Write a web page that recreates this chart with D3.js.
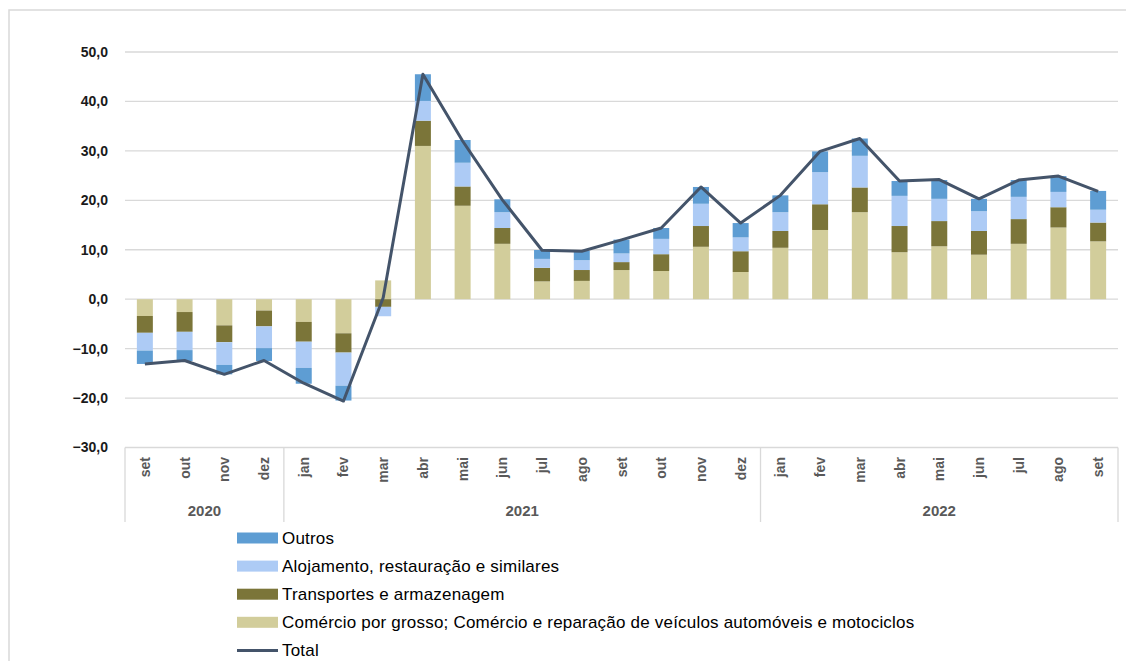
<!DOCTYPE html>
<html>
<head>
<meta charset="utf-8">
<script src="https://cdn.jsdelivr.net/npm/d3@7"></script>
<style>
  html, body { margin: 0; padding: 0; background: #fff; }
  svg { display: block; }
</style>
</head>
<body>
<script>
// ---------- DATA ----------
const months = ["set","out","nov","dez","jan","fev","mar","abr","mai","jun","jul","ago","set","out","nov","dez","jan","fev","mar","abr","mai","jun","jul","ago","set"];
const yearLabels = ["2020","2021","2022"];
const yearCounts = [4, 12, 9];
const yTicks = [50, 40, 30, 20, 10, 0, -10, -20, -30];

const seriesNames = [
  "Comércio por grosso; Comércio e reparação de veículos automóveis e motociclos",
  "Transportes e armazenagem",
  "Alojamento, restauração e similares",
  "Outros"
];
const comercio    = [-3.4,-2.6,-5.3,-2.3,-4.6,-6.9,3.8,31.0,18.9,11.2,3.6,3.7,5.9,5.7,10.6,5.5,10.4,14.0,17.6,9.5,10.7,9.0,11.2,14.5,11.7];
const transportes = [-3.4,-4.0,-3.4,-3.2,-4.0,-3.9,-1.55,5.1,3.9,3.2,2.75,2.2,1.6,3.4,4.2,4.2,3.4,5.2,5.0,5.3,5.1,4.8,5.0,4.1,3.8];
const alojamento  = [-3.6,-3.7,-4.6,-4.4,-5.3,-6.7,-1.9,4.0,4.8,3.2,1.8,2.0,1.75,3.1,4.5,2.8,3.8,6.5,6.4,6.1,4.5,4.0,4.5,3.1,2.6];
const outros      = [-2.7,-2.2,-1.9,-2.6,-3.2,-3.0,0.0,5.4,4.6,2.6,1.8,1.9,2.8,2.2,3.4,2.9,3.4,4.2,3.5,3.0,3.8,2.5,3.4,3.2,3.8];
const total       = [-13.1,-12.4,-15.2,-12.4,-17.0,-20.6,0.3,45.5,32.0,20.1,9.9,9.7,12.0,14.4,22.7,15.4,21.0,29.9,32.5,23.9,24.2,20.3,24.1,24.9,21.8];

// ---------- STYLE ----------
const colors = ["#D2CD9B", "#7B7539", "#ADCBF5", "#5E9DD3"];
const totalColor = "#44546A";
const W = 1126, H = 661;
const pLeft = 125, pRight = 1118, pTop = 52, pBottom = 447.5;

const svg = d3.select("body").append("svg").attr("width", W).attr("height", H);

// outer frame
svg.append("rect").attr("x", 9).attr("y", 10).attr("width", W + 20).attr("height", H + 20)
  .attr("fill", "none").attr("stroke", "#D9D9D9").attr("stroke-width", 1.5);

const idx = months.map((m, i) => i);
const x = d3.scaleBand().domain(idx).range([pLeft, pRight]);
const xc = i => x(i) + x.bandwidth() / 2;
const step = x.step();
const barW = 16;
const y = d3.scaleLinear().domain([-30, 50]).range([pBottom, pTop]);

// gridlines
svg.append("g").selectAll("line").data(yTicks.filter(t => t > -30)).join("line")
  .attr("x1", pLeft).attr("x2", pRight)
  .attr("y1", d => y(d)).attr("y2", d => y(d))
  .attr("stroke", "#D9D9D9").attr("stroke-width", 1.3);

// y labels
const yAxis = d3.axisLeft(y).tickValues(yTicks).tickSize(0).tickPadding(0)
  .tickFormat(d => d3.format(".1f")(d).replace(".", ","));
const gy = svg.append("g").attr("transform", `translate(108,0)`).call(yAxis);
gy.select(".domain").remove();
gy.selectAll("text").attr("font-family", "'Liberation Sans', Arial, sans-serif")
  .attr("font-size", 14).attr("font-weight", "bold").attr("fill", "#1a1a1a");

// stacked bars
const rows = idx.map(i => ({ i, s0: comercio[i], s1: transportes[i], s2: alojamento[i], s3: outros[i] }));
const stack = d3.stack().keys(["s0","s1","s2","s3"]).offset(d3.stackOffsetDiverging);
const stacked = stack(rows);
svg.append("g").selectAll("g").data(stacked).join("g")
  .attr("fill", (d, k) => colors[k])
  .selectAll("rect").data(d => d).join("rect")
  .attr("x", d => xc(d.data.i) - barW / 2)
  .attr("width", barW)
  .attr("y", d => y(Math.max(d[0], d[1])))
  .attr("height", d => Math.abs(y(d[0]) - y(d[1])));

// total line
const line = d3.line().x((d, i) => xc(i)).y(d => y(d));
svg.append("path").datum(total).attr("d", line)
  .attr("fill", "none").attr("stroke", totalColor).attr("stroke-width", 3)
  .attr("stroke-linejoin", "round");

// category axis box
const axG = svg.append("g").attr("stroke", "#D9D9D9").attr("stroke-width", 1.3);
axG.append("line").attr("x1", pLeft).attr("x2", pRight).attr("y1", pBottom).attr("y2", pBottom);
let cum = 0;
const seps = [0];
yearCounts.forEach(c => { cum += c; seps.push(cum); });
seps.forEach(s => {
  axG.append("line").attr("x1", pLeft + s * step).attr("x2", pLeft + s * step)
    .attr("y1", pBottom).attr("y2", 522);
});

// month labels
svg.append("g").selectAll("text").data(months).join("text")
  .attr("transform", (d, i) => `translate(${xc(i) + 5},457) rotate(-90)`)
  .attr("text-anchor", "end")
  .attr("font-family", "'Liberation Sans', Arial, sans-serif")
  .attr("font-size", 14).attr("font-weight", "bold").attr("fill", "#595959")
  .text(d => d);

// year labels
svg.append("g").selectAll("text").data(yearLabels).join("text")
  .attr("x", (d, k) => pLeft + step * (seps[k] + seps[k + 1]) / 2)
  .attr("y", 516)
  .attr("text-anchor", "middle")
  .attr("font-family", "'Liberation Sans', Arial, sans-serif")
  .attr("font-size", 15).attr("font-weight", "bold").attr("fill", "#595959")
  .text(d => d);

// legend
const legendItems = [
  { name: seriesNames[3], color: colors[3], type: "rect" },
  { name: seriesNames[2], color: colors[2], type: "rect" },
  { name: seriesNames[1], color: colors[1], type: "rect" },
  { name: seriesNames[0], color: colors[0], type: "rect" },
  { name: "Total", color: totalColor, type: "line" }
];
const lg = svg.append("g");
legendItems.forEach((it, k) => {
  const cy = 538 + k * 28.1;
  if (it.type === "rect") {
    lg.append("rect").attr("x", 237).attr("y", cy - 5.5).attr("width", 41).attr("height", 11).attr("fill", it.color);
  } else {
    lg.append("line").attr("x1", 237).attr("x2", 278).attr("y1", cy).attr("y2", cy)
      .attr("stroke", it.color).attr("stroke-width", 3);
  }
  lg.append("text").attr("x", 282).attr("y", cy + 5.5)
    .attr("font-family", "'Liberation Sans', Arial, sans-serif")
    .attr("font-size", 17).attr("letter-spacing", 0.2).attr("fill", "#000").text(it.name);
});
</script>
</body>
</html>
